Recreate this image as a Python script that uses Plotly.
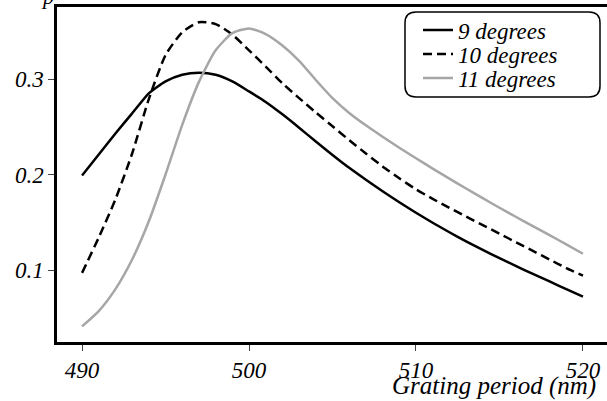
import plotly.graph_objects as go

period_nm = list(range(490, 521))

deg9 = [0.199, 0.221, 0.243, 0.264, 0.285, 0.2975, 0.3045, 0.3066, 0.3045, 0.2975,
        0.287, 0.276, 0.263, 0.249, 0.2345, 0.2205, 0.207, 0.1945, 0.1825, 0.171,
        0.160, 0.1495, 0.1395, 0.130, 0.121, 0.1125, 0.104, 0.096, 0.088, 0.080, 0.072]

deg10 = [0.097, 0.134, 0.174, 0.222, 0.279, 0.325, 0.349, 0.3595, 0.3575, 0.3465,
         0.330, 0.313, 0.2955, 0.280, 0.265, 0.2505, 0.236, 0.222, 0.2085, 0.196,
         0.1845, 0.1745, 0.165, 0.156, 0.147, 0.138, 0.129, 0.120, 0.111, 0.102, 0.094]

deg11 = [0.041, 0.057, 0.080, 0.111, 0.151, 0.200, 0.252, 0.297, 0.330, 0.348,
         0.353, 0.347, 0.335, 0.319, 0.299, 0.280, 0.2645, 0.2515, 0.2395, 0.228,
         0.217, 0.2062, 0.1957, 0.1853, 0.1752, 0.1652, 0.1555, 0.146, 0.1365, 0.1268, 0.117]

series_names = ["9 degrees", "10 degrees", "11 degrees"]
x_ticks = [490, 500, 510, 520]
y_ticks = [0.1, 0.2, 0.3]

FONT = "Liberation Serif"

def it(s):
    return f"<i>{s}</i>"

fig = go.Figure()
fig.add_trace(go.Scatter(x=period_nm, y=deg9, mode="lines", name=it(series_names[0]), legend="legend",
                         line=dict(color="black", width=2.5, shape="spline", smoothing=0.6)))
fig.add_trace(go.Scatter(x=period_nm, y=deg10, mode="lines", name=it(series_names[1]), legend="legend2",
                         line=dict(color="black", width=2.5, dash="9px,5px", shape="spline", smoothing=0.6)))
fig.add_trace(go.Scatter(x=period_nm, y=deg11, mode="lines", name=it(series_names[2]), legend="legend3",
                         line=dict(color="#a6a6a6", width=2.5, shape="spline", smoothing=0.6)))

PW, PH = 550, 335

def leg(row_center_px):
    return dict(x=(418 - 57) / PW, y=(342 - row_center_px) / PH, xanchor="left", yanchor="middle",
                bgcolor="rgba(0,0,0,0)", borderwidth=0, itemwidth=30,
                font=dict(family=FONT, size=23, color="black"))

fig.update_layout(
    width=607, height=401,
    margin=dict(l=57, r=0, t=7, b=59),
    paper_bgcolor="white", plot_bgcolor="white",
    showlegend=True,
    legend=leg(30), legend2=leg(54), legend3=leg(78),
    annotations=[
        dict(text=it("Grating period (nm)"), xref="paper", yref="paper", x=(390 - 57) / PW, y=0,
             xanchor="left", align="left", yanchor="top", yshift=-28, showarrow=False,
             font=dict(family=FONT, size=25, color="black")),
        dict(text=it("p"), xref="paper", yref="paper", x=(47 - 57) / PW, y=1,
             xanchor="center", yanchor="bottom", yshift=-4, showarrow=False,
             font=dict(family=FONT, size=22, color="black")),
    ],
)
# rounded legend frame
x0, x1 = (405 - 57) / PW, (600 - 57) / PW
y0, y1 = (342 - 97) / PH, (342 - 12) / PH
rx, ry = 11 / PW, 11 / PH
path = (f"M{x0+rx},{y1}L{x1-rx},{y1}Q{x1},{y1},{x1},{y1-ry}"
        f"L{x1},{y0+ry}Q{x1},{y0},{x1-rx},{y0}L{x0+rx},{y0}"
        f"Q{x0},{y0},{x0},{y0+ry}L{x0},{y1-ry}Q{x0},{y1},{x0+rx},{y1}Z")
fig.add_shape(type="path", xref="paper", yref="paper", path=path,
              line=dict(color="black", width=1.5), layer="above")

fig.update_xaxes(range=[488.5, 521.44], tickvals=x_ticks, ticktext=[it(v) for v in x_ticks],
                 ticks="outside", ticklen=6,
                 tickwidth=1.2, showline=True, linecolor="black", linewidth=2.5,
                 mirror=True, showgrid=False, zeroline=False,
                 tickfont=dict(family=FONT, size=23, color="black"))
fig.update_yaxes(range=[0.0246, 0.3754], tickvals=y_ticks, ticktext=[it(v) for v in y_ticks],
                 ticks="outside", ticklen=6,
                 tickwidth=1.2, showline=True, linecolor="black", linewidth=2.5,
                 showgrid=False, zeroline=False,
                 tickfont=dict(family=FONT, size=23, color="black"))

# make sure every svg text uses the serif face
post = """
var gd = document.getElementById('{plot_id}');
function serifFix() {
  gd.querySelectorAll('text, tspan').forEach(function (t) {
    t.style.fontFamily = "'Liberation Serif', 'Times New Roman', serif";
  });
}
serifFix();
setTimeout(serifFix, 30);
setTimeout(serifFix, 200);
"""

fig.write_html("out.html", post_script=post)
